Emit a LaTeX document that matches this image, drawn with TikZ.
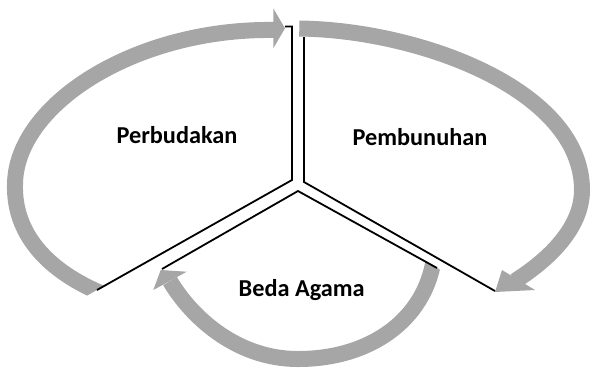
\documentclass[tikz,border=0pt]{standalone}
\usepackage{fontspec}
\setmainfont{Carlito}
\definecolor{arrgray}{HTML}{A6A6A6}
\begin{document}
\begin{tikzpicture}[x=1pt,y=-1pt,
  band/.style={draw=arrgray, line width=16pt},
  headfill/.style={fill=arrgray},
  sector/.style={draw=black, line width=1.8pt, line join=miter},
  lbl/.style={font=\fontsize{24.3}{29}\selectfont\bfseries, anchor=base, inner sep=0pt}]
\useasboundingbox (0,0) rectangle (593,368);
% left arrow (Perbudakan)
\begin{scope}
  \clip (-50,372.9) -- (400,119.1) -- (400,-50) -- (-50,-50) -- cycle;
  \draw[band] (101,293.2) -- (94,290) .. controls (40,265) and (14,228) .. (15,185)
              .. controls (15,105) and (135,28) .. (274,30);
\end{scope}
\fill[headfill] (273.3,8.3) -- (285,28.3) -- (273.3,48.3) -- cycle;
% right arrow (Pembunuhan)
\draw[band] (299.3,28.5) .. controls (420,30) and (582,90) .. (582,190)
            .. controls (582,230) and (545,262) .. (515,281);
\fill[headfill] (502,270) -- (495,292) -- (535,290) -- cycle;
% bottom arrow (Beda Agama)
\begin{scope}
  \clip (0,25.9) -- (600,358.3) -- (600,500) -- (0,500) -- cycle;
  \draw[band] (435.3,249) -- (434,258) .. controls (425,320) and (370,359) .. (298,359)
              .. controls (235,359) and (190,315) .. (170,281);
\end{scope}
\fill[headfill] (153.3,290) -- (160.7,270) -- (186.7,271.7) -- cycle;
% sector outlines
\draw[sector] (285,26.5) -- (292,26.5) -- (292,180) -- (97,290);
\draw[sector] (304,37) -- (304,182) -- (495,291);
\draw[sector] (162,269) -- (298,191) -- (437,268);
% labels
\node[lbl] (perb) at (177,143.3) {Perbudakan};
\node[lbl] (pemb) at (420,145) {Pembunuhan};
\node[lbl] (beda) at (301.7,296.7) {Beda Agama};
\end{tikzpicture}
\end{document}
